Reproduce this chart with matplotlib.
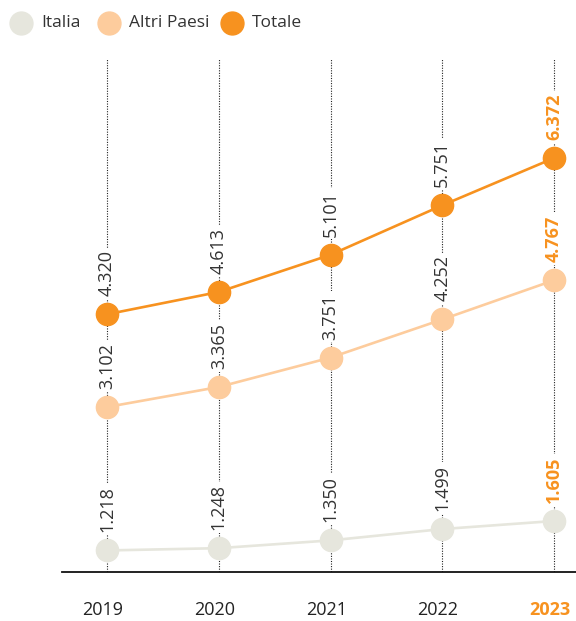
import matplotlib.pyplot as plt
from matplotlib.lines import Line2D

plt.rcParams['font.family'] = ['Open Sans', 'DejaVu Sans']

years = [2019, 2020, 2021, 2022, 2023]
italia = [1.218, 1.248, 1.350, 1.499, 1.605]
altri = [3.102, 3.365, 3.751, 4.252, 4.767]
totale = [4.320, 4.613, 5.101, 5.751, 6.372]

series = [
    ('Italia', italia, '#E6E6DD'),
    ('Altri Paesi', altri, '#FDCC9D'),
    ('Totale', totale, '#F7921F'),
]
orange = '#F7921F'
dark = '#333333'

fig = plt.figure(figsize=(5.76, 6.21), dpi=100)
ax = fig.add_axes([62 / 576, 49 / 621, 514 / 576, 512 / 621])
ax.set_xlim(2018.597, 2023.197)
ax.set_ylim(0.935, 7.66)

# vertical dotted guides
ax.vlines(years, 0.5, 8, colors='#222222', linewidth=0.8,
          linestyles=(0, (1, 1.3)), zorder=1)

for name, vals, col in series:
    ax.plot(years, vals, color=col, linewidth=1.9, marker='o',
            markersize=16, zorder=3)
    for i, (x, v) in enumerate(zip(years, vals)):
        last = i == len(years) - 1
        txt = f'{v:.3f}'
        ax.annotate(txt, (x, v), xytext=(0, 13), textcoords='offset points',
                    rotation=90, ha='center', va='bottom', fontsize=13,
                    color=orange if last else dark,
                    fontweight='bold' if last else 'normal',
                    bbox=dict(boxstyle='square,pad=0.15', fc='white', ec='none'),
                    zorder=2)

for s in ['top', 'right', 'left']:
    ax.spines[s].set_visible(False)
ax.spines['bottom'].set_linewidth(1.3)
ax.spines['bottom'].set_color('#111111')
ax.set_yticks([])
ax.set_xticks([])

for i, x in enumerate(years):
    last = i == len(years) - 1
    ax.annotate(str(x), (x, 0), xycoords=('data', 'axes fraction'),
                xytext=(-3, -21), textcoords='offset points',
                ha='center', va='top', fontsize=13,
                color=orange if last else '#222222',
                fontweight='bold' if last else 'normal')

# legend
leg_x = [21, 109, 232]
for (name, vals, col), lx in zip(series, leg_x):
    fig.add_artist(Line2D([lx / 576], [1 - 23 / 621], transform=fig.transFigure,
                          marker='o', markersize=16.5, color=col, linestyle='none'))
    fig.text((lx + 20) / 576, 1 - 23 / 621, name, fontsize=12.5, color=dark,
             ha='left', va='center')

fig.savefig('out.png', dpi=100)
